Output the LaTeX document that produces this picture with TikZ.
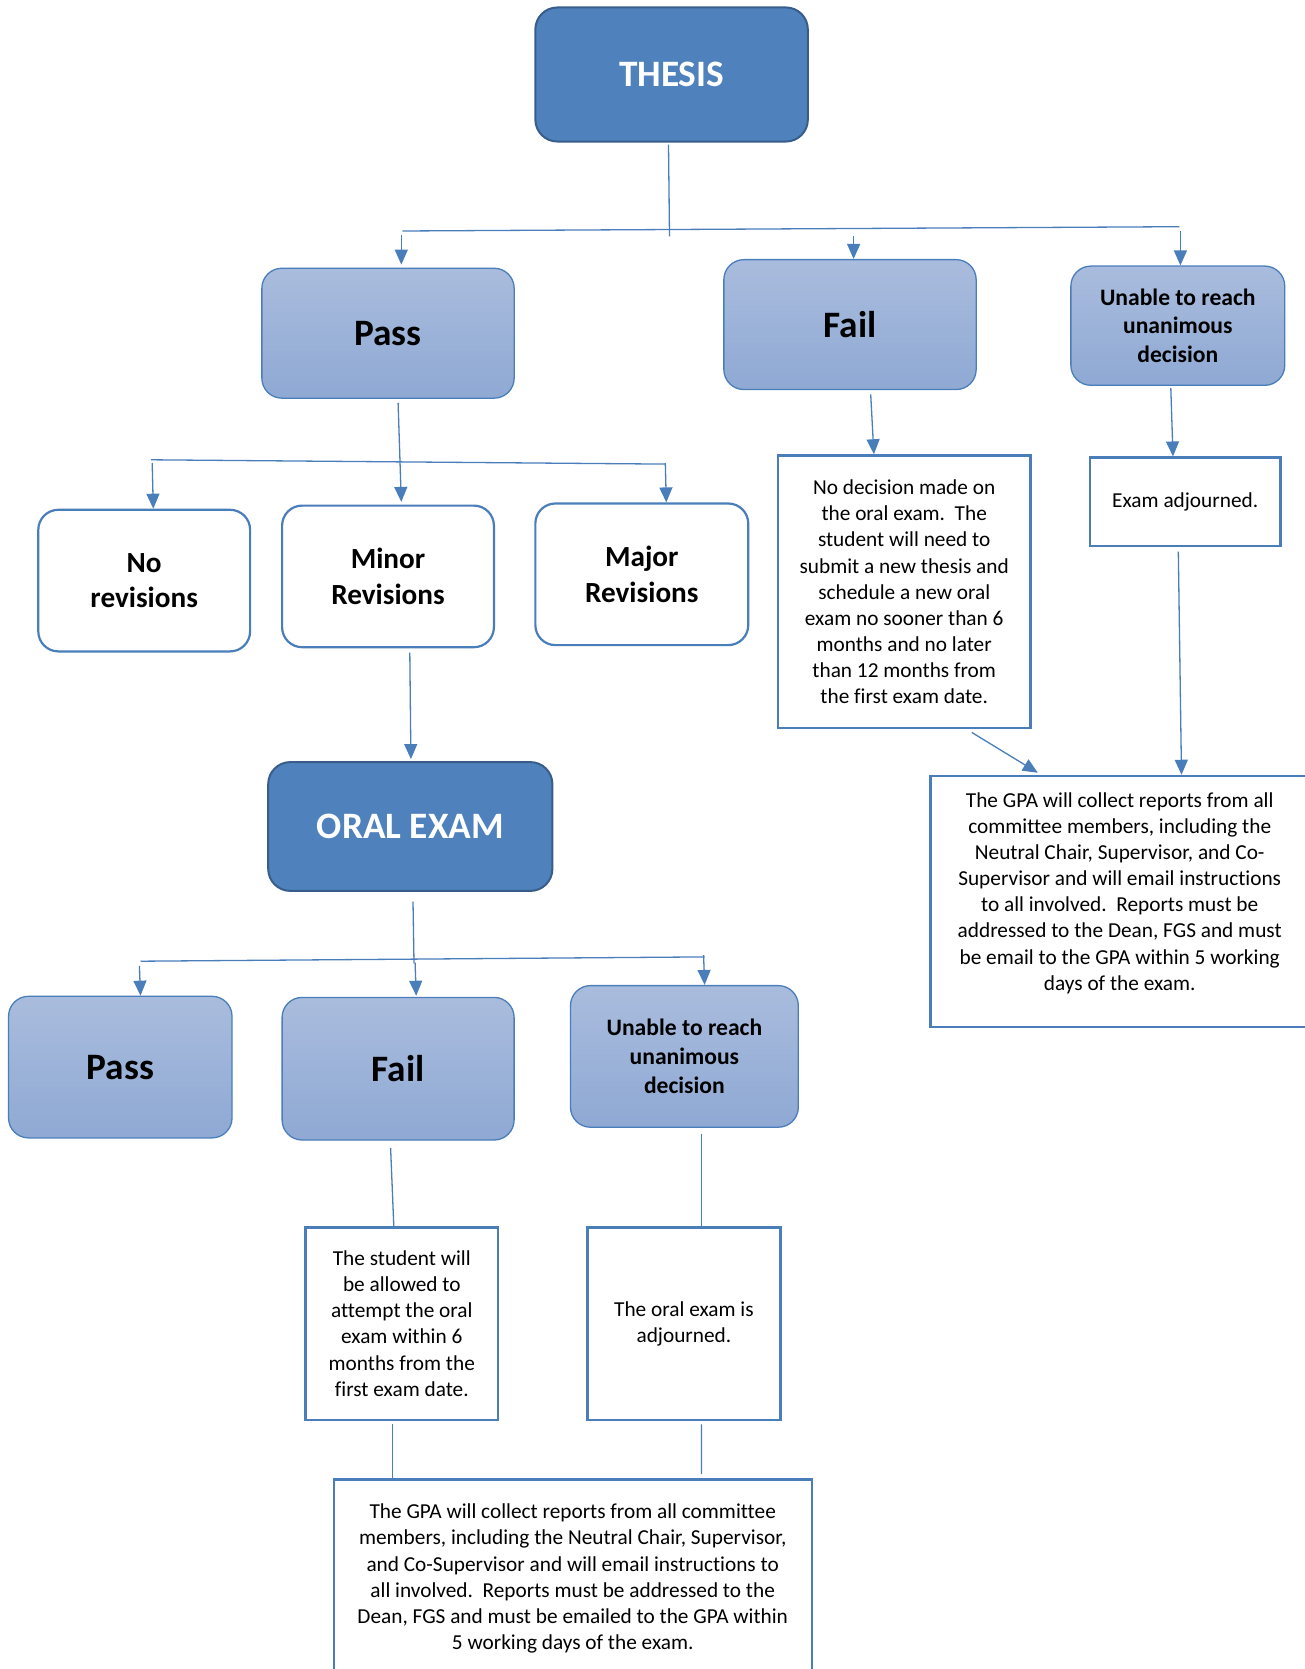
\documentclass[tikz,border=0pt]{standalone}
\usepackage{fontspec}
\setmainfont{Carlito}[Ligatures=CommonOff]
\usepackage{tikz}
\usetikzlibrary{arrows.meta}
\definecolor{boxdark}{RGB}{79,129,189}
\definecolor{boxdarkline}{RGB}{56,93,138}
\definecolor{gradtop}{RGB}{169,188,221}
\definecolor{gradbot}{RGB}{143,169,212}
\definecolor{linkblue}{RGB}{74,126,187}

\begin{document}
\begin{tikzpicture}[x=1pt, y=-1pt, >={Triangle[length=15pt,width=13pt]},
    darkbox/.style={draw=boxdarkline, line width=2pt, fill=boxdark, rounded corners=22pt,
        text=white, font=\fontsize{37.3}{44}\selectfont\bfseries},
    gradbox/.style={draw=linkblue, line width=1.3pt, top color=gradtop, bottom color=gradbot,
        rounded corners=20pt, align=center},
    bigtxt/.style={font=\fontsize{37.3}{44}\selectfont\bfseries},
    midtxt/.style={font=\fontsize{23.6}{28.7}\selectfont\bfseries},
    whitebox/.style={draw=linkblue, line width=2.2pt, fill=white, rounded corners=20pt,
        align=center, font=\fontsize{29.2}{35.2}\selectfont\bfseries},
    notebox/.style={draw=linkblue, line width=2.6pt, fill=white, align=center,
        font=\fontsize{21.3}{26.1}\selectfont},
    notetxt/.style={align=center, font=\fontsize{21.3}{26.1}\selectfont},
    conn/.style={linkblue, line width=1.3pt},
    arr/.style={conn, ->}]
    \useasboundingbox (0,0) rectangle (1305,1669);
    \clip (0,0) rectangle (1305,1669);
    % top level
    \node[darkbox, minimum width=272.5pt, minimum height=134.1pt] (thesis) at (671.6,74.5) {THESIS};
    \node[gradbox, bigtxt, minimum width=252.3pt, minimum height=129.9pt] (pass) at (388,333.2) {Pass};
    \node[gradbox, bigtxt, minimum width=252.3pt, minimum height=129.9pt] (fail) at (850,324.6) {Fail};
    \node[gradbox, midtxt, minimum width=213.9pt, minimum height=119.2pt] (unable) at (1177.8,325.7) {Unable to reach\\unanimous\\decision};
    \coordinate (b1l) at (402.3,231.0); \coordinate (b1r) at (1179.4,226.7); \coordinate (b1m) at (669.5,236.3);
    \draw[conn] ([shift={(-3.1,2.1)}]thesis.south) -- (b1m);
    \draw[conn] (b1l) -- (b1r);
    \draw[arr] ([shift={(13.3,-33)}]pass.north) -- ([shift={(13.3,-3)}]pass.north);
    \draw[arr] ([shift={(3.6,-23.4)}]fail.north) -- ([shift={(3.6,0)}]fail.north);
    \draw[arr] ([shift={(2.6,-34.1)}]unable.north) -- ([shift={(2.6,0)}]unable.north);
    % revisions
    \node[whitebox, minimum width=211.8pt, minimum height=141.6pt] (norev) at (144.2,580.6) {No\\revisions};
    \node[whitebox, minimum width=211.8pt, minimum height=141.6pt] (minor) at (388,576.4) {Minor\\Revisions};
    \node[whitebox, minimum width=212.9pt, minimum height=141.6pt] (major) at (641.8,574.3) {Major\\Revisions};
    \coordinate (b2l) at (151.1,459.8); \coordinate (b2r) at (665.3,464.1);
    \draw[arr] ([shift={(10.1,4.2)}]pass.south) -- ([shift={(13.3,-2.6)}]minor.north);
    \draw[conn] (b2l) -- (b2r);
    \draw[arr] ([shift={(8,-45.7)}]norev.north) -- ([shift={(9.1,0)}]norev.north);
    \draw[arr] ([shift={(23.5,-39.4)}]major.north) -- ([shift={(24.5,0)}]major.north);
    % oral exam
    \node[darkbox, minimum width=284.2pt, minimum height=128.8pt] (oral) at (410.3,826.5) {ORAL EXAM};
    \draw[arr] ([shift={(21.8,4.2)}]minor.south) -- ([shift={(0.6,-2)}]oral.north);
    \node[gradbox, bigtxt, minimum width=223.5pt, minimum height=141.6pt] (pass2) at (120.3,1067.1) {Pass};
    \node[gradbox, bigtxt, minimum width=232pt, minimum height=142.6pt] (fail2) at (398.1,1068.7) {Fail};
    \node[gradbox, midtxt, minimum width=227.8pt, minimum height=141.6pt] (unable2) at (684.4,1056.4) {Unable to reach\\unanimous\\decision};
    \coordinate (b3l) at (140.5,961.2); \coordinate (b3r) at (704.6,956.9); \coordinate (b3m) at (414,963.3);
    \draw[conn] ([shift={(2.7,9.6)}]oral.south) -- (b3m);
    \draw[conn] (b3l) -- (b3r);
    \draw[arr] ([shift={(19.1,-29.8)}]pass2.north) -- ([shift={(20.2,0)}]pass2.north);
    \draw[arr] ([shift={(17,-34)}]fail2.north) -- ([shift={(18.1,-1)}]fail2.north);
    \draw[arr] ([shift={(19.2,-29.8)}]unable2.north) -- ([shift={(20.2,0)}]unable2.north);
    % notes below oral exam
    \node[notebox, minimum width=192.7pt, minimum height=192.7pt] (failnote2) at (401.8,1323.6)
        {The student will\\be allowed to\\attempt the oral\\exam within 6\\months from the\\first exam date.};
    \node[notebox, minimum width=192.7pt, minimum height=192.7pt] (adjnote2) at (683.9,1323.6)
        {The oral exam is\\adjourned.};
    \node[notebox, minimum width=477.9pt, minimum height=221pt] (gpaB) at (573.1,1590) {};
    \node[notetxt] (gpaBtext) at ([shift={(-0.4,-11.5)}]gpaB.center)
        {The GPA will collect reports from all committee\\members, including the Neutral Chair, Supervisor,\\and Co-Supervisor and will email instructions to\\all involved.\ \ Reports must be addressed to the\\Dean, FGS and must be emailed to the GPA within\\5 working days of the exam.};
    \draw[conn] ([shift={(-7.5,7.4)}]fail2.south) -- ([shift={(-8,0)}]failnote2.north);
    \draw[conn] ([shift={(17,6.4)}]unable2.south) -- ([shift={(17.5,0)}]adjnote2.north);
    \draw[conn] ([shift={(-9,3.2)}]failnote2.south) -- ([shift={(-180.3,0)}]gpaB.north);
    \draw[conn] ([shift={(17.5,3.2)}]adjnote2.south) -- ([shift={(128.3,-4)}]gpaB.north);
    % notes on the right
    \node[notebox, minimum width=252.3pt, minimum height=272.5pt] (failnote) at (904.2,591.8)
        {No decision made on\\the oral exam.\ \ The\\student will need to\\submit a new thesis and\\schedule a new oral\\exam no sooner than 6\\months and no later\\than 12 months from\\the first exam date.};
    \node[notebox, minimum width=190.5pt, minimum height=88.3pt] (examadj) at (1185.2,501.9) {Exam adjourned.};
    \node[notebox, minimum width=378.8pt, minimum height=251.1pt] (gpaR) at (1119.7,901.6) {};
    \node[notetxt] (gpaRtext) at ([shift={(0,-8.5)}]gpaR.center)
        {The GPA will collect reports from all\\committee members, including the\\Neutral Chair, Supervisor, and Co-\\Supervisor and will email instructions\\to all involved.\ \ Reports must be\\addressed to the Dean, FGS and must\\be email to the GPA within 5 working\\days of the exam.};
    \draw[arr] ([shift={(20.7,4.2)}]fail.south) -- ([shift={(-30.3,0)}]failnote.north);
    \draw[arr] ([shift={(-7,2.1)}]unable.south) -- ([shift={(-12.2,0)}]examadj.north);
    \draw[arr] ([shift={(-6.9,4.3)}]examadj.south) -- ([shift={(61.8,0)}]gpaR.north);
    \draw[arr] ([shift={(67.6,3.1)}]failnote.south) -- ([shift={(-81.9,-2)}]gpaR.north);
\end{tikzpicture}
\end{document}
